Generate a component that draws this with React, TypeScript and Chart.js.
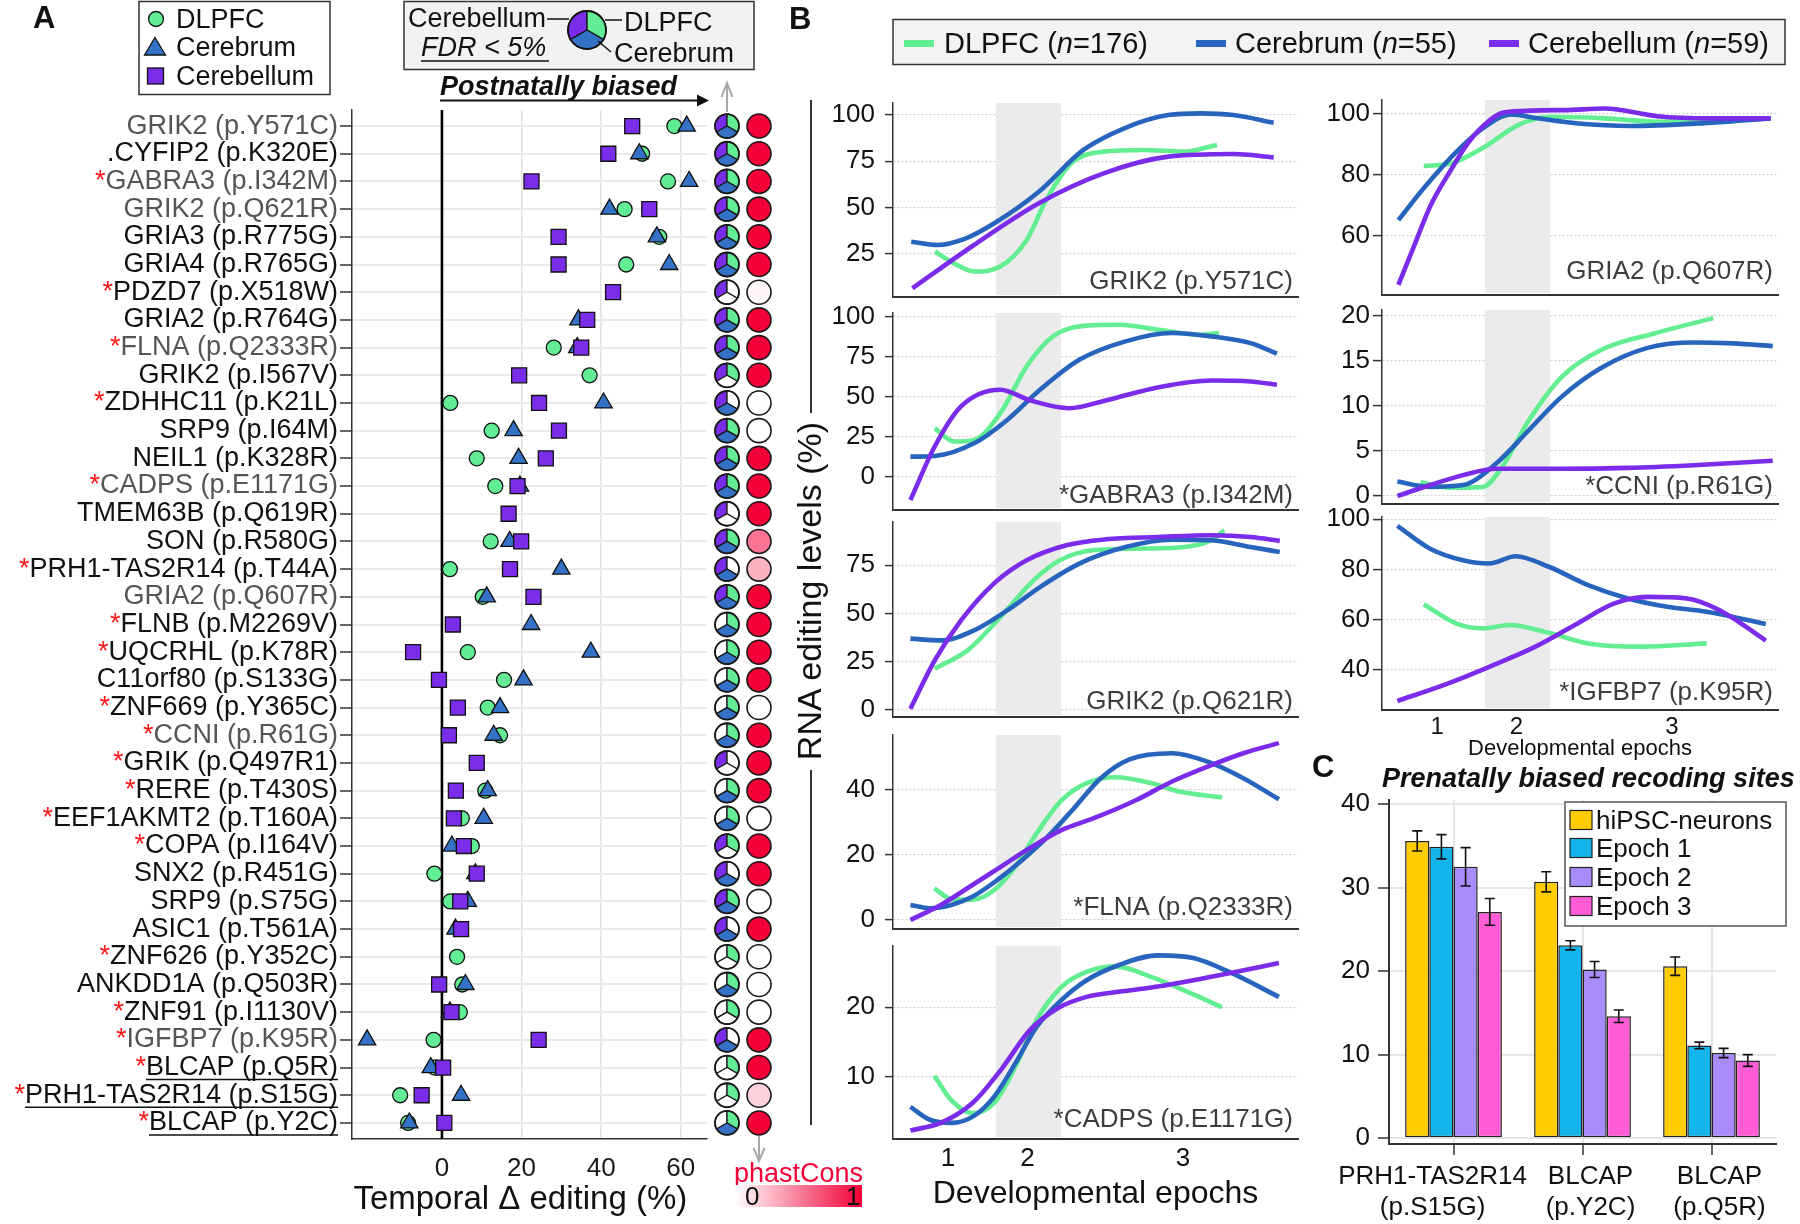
import React, { useEffect, useRef } from 'react';
import { Chart, registerables } from 'chart.js';

Chart.register(...registerables);

const FONT = '"Liberation Sans", Arimo, Arial, Helvetica, sans-serif';
Chart.defaults.font.family = FONT;
Chart.defaults.color = '#111';

// ---------------- colours ----------------
const GREEN = '#62EC93';
const BLUE = '#3372C6';
const PURPLE = '#7A2DE8';
const LINE_GREEN = '#63EE92';
const LINE_BLUE = '#2764BE';
const LINE_PURPLE = '#7B2BEA';
const PHAST_RGB = [242, 0, 55];

// ---------------- Panel A data ----------------
const SITES = [
  'GRIK2 (p.Y571C)', '.CYFIP2 (p.K320E)', 'GABRA3 (p.I342M)', 'GRIK2 (p.Q621R)', 'GRIA3 (p.R775G)',
  'GRIA4 (p.R765G)', 'PDZD7 (p.X518W)', 'GRIA2 (p.R764G)', 'FLNA (p.Q2333R)', 'GRIK2 (p.I567V)',
  'ZDHHC11 (p.K21L)', 'SRP9 (p.I64M)', 'NEIL1 (p.K328R)', 'CADPS (p.E1171G)', 'TMEM63B (p.Q619R)',
  'SON (p.R580G)', 'PRH1-TAS2R14 (p.T44A)', 'GRIA2 (p.Q607R)', 'FLNB (p.M2269V)', 'UQCRHL (p.K78R)',
  'C11orf80 (p.S133G)', 'ZNF669 (p.Y365C)', 'CCNI (p.R61G)', 'GRIK (p.Q497R1)', 'RERE (p.T430S)',
  'EEF1AKMT2 (p.T160A)', 'COPA (p.I164V)', 'SNX2 (p.R451G)', 'SRP9 (p.S75G)', 'ASIC1 (p.T561A)',
  'ZNF626 (p.Y352C)', 'ANKDD1A (p.Q503R)', 'ZNF91 (p.I1130V)', 'IGFBP7 (p.K95R)', 'BLCAP (p.Q5R)',
  'PRH1-TAS2R14 (p.S15G)', 'BLCAP (p.Y2C)',
];
const STARRED = [2, 6, 8, 10, 13, 16, 18, 19, 21, 22, 23, 24, 25, 26, 30, 32, 33, 34, 35, 36];
const GREY_SITES = [0, 2, 3, 8, 13, 17, 22, 33];
const UNDERLINED = [34, 35, 36];

const DELTA_DLPFC: (number | null)[] = [58.4, 50.3, 56.8, 45.9, 54.6, 46.3, null, null, 28.1, 37.1, 2.1, 12.5, 8.75, 13.4, null, 12.25, 2.0, 10.25, null, 6.5, 15.6, 11.5, 14.6, null, 10.9, 5.0, 7.5, -1.9, 2.1, null, 3.8, 5.1, 4.5, -2.1, -1.8, -10.5, -8.5];
const DELTA_CEREBRUM: (number | null)[] = [61.5, 49.6, 62.1, 42.1, 54.0, 57.1, null, 34.3, 34.0, null, 40.6, 18.0, 19.25, 19.6, null, 17.0, 30.0, 11.25, 22.4, 37.4, 20.5, 14.6, 13.0, null, 11.5, 10.5, 2.5, 8.4, 6.5, 3.4, null, 5.9, 2.0, -18.8, -2.8, 4.8, -8.2];
const DELTA_CEREBELLUM: (number | null)[] = [47.8, 41.8, 22.5, 52.1, 29.3, 29.3, 43.0, 36.5, 35.0, 19.4, 24.4, 29.4, 26.1, 19.0, 16.75, 19.9, 17.1, 23.0, 2.75, -7.25, -0.75, 4.0, 1.75, 8.75, 3.5, 3.0, 5.5, 8.75, 4.6, 4.8, null, -0.7, 2.4, 24.3, 0.3, -5.1, 0.6];

const FDR_CEREBELLUM = [1,1,1,1,1,1,1,1,1,1,1,1,1,1,1,1,1,1,0,0,0,0,0,1,0,0,1,1,1,1,0,0,0,1,0,0,0];
const FDR_DLPFC =      [1,1,1,1,1,1,0,1,1,1,0,1,1,1,0,1,0,1,1,1,1,1,1,0,1,1,1,0,1,0,1,1,1,0,1,1,1];
const FDR_CEREBRUM =   [1,1,1,1,1,1,0,1,1,0,1,1,1,1,0,1,1,1,1,1,1,1,1,0,1,1,0,1,1,1,0,1,0,1,0,0,1];
const PHASTCONS = [1,1,1,1,1,1,0.03,1,1,1,0,0,1,1,1,0.55,0.3,1,1,1,1,0,1,1,1,0,1,1,0,1,0,0,0,1,1,0.18,1];

const DELTA_TICKS = [0, 20, 40, 60];
const DELTA_RANGE = [-22.6, 66.6];

// ---------------- Panel B data ----------------
const EPOCH_TICK_POS = [13.6, 33.2, 71.6];
const EPOCH_LABELS = ['1', '2', '3'];
const EPOCH2_SHADE = [25.4, 41.5];
const B_X_MAX = [100, 97.8];

type P = [number, number][];
const B1_DLPFC: P = [[10.4,26.3],[15,20],[20,15.5],[26.5,18.2],[33,32.5],[37.8,54],[44,73.8],[52,80.1],[62,81],[71.5,80.1],[80,83.7]];
const B1_CEREBRUM: P = [[4.5,31.6],[11,29.8],[18,33.4],[25,41.5],[36,58.5],[47,81],[58,93.5],[68,99.8],[76,100.7],[84,99.8],[94,95.7]];
const B1_CEREBELLUM: P = [[4.8,6.5],[20,29.8],[36,52.3],[52,68.4],[68,77.4],[84,78.8],[94,77]];

const B2_DLPFC: P = [[10.3,30.2],[15.2,21.9],[20,22.9],[26.5,39.6],[33,68.8],[39.5,87.5],[47.7,94.2],[55.8,94.8],[65.6,91.7],[75.3,88.5],[80.5,89.6]];
const B2_CEREBRUM: P = [[4.3,12.5],[10.3,12.9],[20,20.8],[28.2,35.4],[36.3,54.2],[46,72.9],[57.4,84.4],[68.8,89.6],[78.6,87.5],[88.3,83.3],[94.8,76.7]];
const B2_CEREBELLUM: P = [[4.3,-14.6],[10.3,18.8],[16.8,43.8],[26.5,54.2],[34,47.5],[43.5,42.7],[52.5,47.5],[65.6,55.8],[78.6,60],[88.3,59.4],[94.8,57.3]];

const B3_DLPFC: P = [[10.3,21.3],[18.4,30.8],[26.5,48.1],[34.7,67.2],[41.2,77.6],[49.3,82.8],[62.3,83.7],[72,84.5],[78.6,88],[81.8,93.2]];
const B3_CEREBRUM: P = [[4.3,36.9],[11.9,36],[20,41.2],[28.2,51.6],[36.3,63.7],[46,75.9],[57.4,84.5],[68.8,88.3],[78.6,88],[88.3,84.5],[95.5,81.9]];
const B3_CEREBELLUM: P = [[4.3,0.5],[10.3,25.6],[16.8,46.4],[24.9,65.5],[33,77.6],[42.8,85.4],[52.5,88.5],[65.6,89.7],[78.6,90.6],[88.3,89.7],[95.5,87.7]];

const B4_DLPFC: P = [[10.2,9.7],[14.4,6.4],[19.7,6.2],[25,9.2],[30.2,16.4],[35.5,26.7],[41.7,36.9],[47.8,42.1],[54.9,43.9],[63.7,42.1],[70.7,39.5],[81.2,37.7]];
const B4_CEREBRUM: P = [[4.3,4.6],[9.1,3.6],[14.4,4.6],[19.7,7.2],[25.8,12.3],[32,18.5],[38.2,25.6],[44.3,33.8],[51.3,43.6],[58.4,49.4],[68.9,51.3],[77.7,48.7],[86.5,43.6],[95.3,37.1]];
const B4_CEREBELLUM: P = [[4.3,0],[11.8,4.6],[19.7,10.8],[26.7,16.4],[33.8,22.1],[41.7,27.7],[49.6,31.3],[60.1,36.9],[68.9,42.6],[77.7,47.2],[86.5,51.3],[95.3,54.4]];

const B5_DLPFC: P = [[10.2,10.1],[14.4,6.6],[19.7,4.7],[25,6.2],[30.2,11.4],[35.5,18.2],[41.7,23],[47.8,25.1],[54.9,25.9],[63.7,24.4],[72.5,22.3],[81.2,20]];
const B5_CEREBRUM: P = [[4.3,5.6],[9.1,3.75],[14.4,3.3],[19.7,4.2],[25,7.1],[30.2,11.9],[35.5,17.2],[41.7,21.1],[47.8,23.9],[55.8,26.1],[65.4,27.5],[74.2,27.1],[83,25.1],[95.3,21.5]];
const B5_CEREBELLUM: P = [[4.3,2.2],[11.8,3.3],[19.7,6.2],[26.7,11],[33.8,16.7],[40.8,19.9],[47.8,21.5],[56.6,22.3],[65.4,23],[74.2,23.9],[83,24.9],[95.3,26.4]];

const B6_DLPFC: P = [[10.3,82.9],[17.2,83.8],[25.4,89.2],[33.6,96.3],[41.8,99],[55,98.5],[68.1,97.4],[81.2,97.9]];
const B6_CEREBRUM: P = [[4.05,65.2],[10.6,76.1],[18.8,88.1],[25.4,95.7],[32,99.8],[38.5,98.5],[48.4,96.8],[61.5,96],[78,96.8],[96,98.5]];
const B6_CEREBELLUM: P = [[4.05,44],[8,57],[12,70],[17.2,82],[21,90],[25,96],[30.3,100.5],[45,101.2],[55,101.7],[68,99.2],[81,98.5],[96,98.5]];

const B7_DLPFC: P = [[9.5,1.5],[16.8,0.9],[24.9,1.0],[29.8,3.3],[36.3,8.4],[44.4,13.2],[54.2,16.2],[67.2,18],[81.8,19.7]];
const B7_CEREBRUM: P = [[3.8,1.6],[11.9,1.0],[20,1.2],[28.2,3.6],[36.3,7.3],[44.4,11],[54.2,14.2],[65.6,16.4],[77,17],[86.7,16.9],[96.5,16.6]];
const B7_CEREBELLUM: P = [[3.8,0],[11.9,1.2],[20,2.3],[28.2,3.0],[44.4,3.0],[60.7,3.1],[77,3.4],[96.5,3.9]];

const B8_DLPFC: P = [[10.3,66.2],[18.4,58.5],[24.9,56.6],[31.4,57.9],[41.2,54.8],[50.9,50.6],[63.9,49.3],[80.2,50.6]];
const B8_CEREBRUM: P = [[3.8,97.4],[11.9,88.3],[20,83.7],[26.5,82.4],[33,85.3],[41.2,81.1],[50.9,73.8],[60.7,68.5],[70.4,65.2],[80.2,63.2],[94.8,58.3]];
const B8_CEREBELLUM: P = [[3.8,27.7],[15.2,34],[26.5,41.3],[37.9,49.3],[47.6,57.9],[57.4,66.5],[65.6,69.1],[75.3,68.5],[83.4,63.8],[94.8,51.7]];

const B_SITES = ['GRIK2 (p.Y571C)', '*GABRA3 (p.I342M)', 'GRIK2 (p.Q621R)', '*FLNA (p.Q2333R)', '*CADPS (p.E1171G)', 'GRIA2 (p.Q607R)', '*CCNI (p.R61G)', '*IGFBP7 (p.K95R)'];
const B_SERIES: [P, P, P][] = [
  [B1_DLPFC, B1_CEREBRUM, B1_CEREBELLUM],
  [B2_DLPFC, B2_CEREBRUM, B2_CEREBELLUM],
  [B3_DLPFC, B3_CEREBRUM, B3_CEREBELLUM],
  [B4_DLPFC, B4_CEREBRUM, B4_CEREBELLUM],
  [B5_DLPFC, B5_CEREBRUM, B5_CEREBELLUM],
  [B6_DLPFC, B6_CEREBRUM, B6_CEREBELLUM],
  [B7_DLPFC, B7_CEREBRUM, B7_CEREBELLUM],
  [B8_DLPFC, B8_CEREBRUM, B8_CEREBELLUM],
];
const B_Y_RANGES = [[1.8, 106.3], [-20.8, 102.1], [-3.8, 97.5], [-2.8, 56.9], [0.97, 28.85], [40.7, 104.5], [-0.9, 20.6], [24.1, 100.9]];
const B_Y_TICKS = [[25, 50, 75, 100], [0, 25, 50, 75, 100], [0, 25, 50, 75], [0, 20, 40], [10, 20], [60, 80, 100], [0, 5, 10, 15, 20], [40, 60, 80, 100]];

// layout of panel B (pixels only)
type BLayout = { col: number; left: number; right: number; top: number; bottom: number; axisH: number; labelDy: number; tickSize?: number; tickPad?: number; titleSize?: number; titlePad?: number };
const B_LAYOUT: BLayout[] = [
  { col: 0, left: 893, right: 1298, top: 103, bottom: 297, axisH: 30, labelDy: 15 },
  { col: 0, left: 893, right: 1298, top: 313, bottom: 510, axisH: 30, labelDy: 14 },
  { col: 0, left: 893, right: 1298, top: 522, bottom: 717, axisH: 30, labelDy: 15 },
  { col: 0, left: 893, right: 1298, top: 735, bottom: 929, axisH: 30, labelDy: 21 },
  { col: 0, left: 893, right: 1298, top: 946, bottom: 1139, axisH: 85, labelDy: 19, tickSize: 26, tickPad: 4, titleSize: 32, titlePad: 11 },
  { col: 1, left: 1382, right: 1778, top: 100, bottom: 295, axisH: 30, labelDy: 23 },
  { col: 1, left: 1382, right: 1778, top: 310, bottom: 504, axisH: 30, labelDy: 17 },
  { col: 1, left: 1382, right: 1778, top: 517, bottom: 710, axisH: 58, labelDy: 17, tickSize: 24, tickPad: 3, titleSize: 22, titlePad: 6 },
];
const B_Y_TICK_LEN = [8, 9];
const B_Y_TICK_PAD = [10, 3];

// ---------------- Panel C data ----------------
const C_SITES = [['PRH1-TAS2R14', '(p.S15G)'], ['BLCAP', '(p.Y2C)'], ['BLCAP', '(p.Q5R)']];
const C_GROUPS = ['hiPSC-neurons', 'Epoch 1', 'Epoch 2', 'Epoch 3'];
const C_HIPSC = [35.6, 30.7, 20.6];
const C_EPOCH1 = [34.9, 23.1, 11.1];
const C_EPOCH2 = [32.5, 20.2, 10.2];
const C_EPOCH3 = [27.1, 14.6, 9.3];
const C_HIPSC_ERR = [1.2, 1.2, 1.1];
const C_EPOCH1_ERR = [1.45, 0.55, 0.4];
const C_EPOCH2_ERR = [2.3, 0.95, 0.55];
const C_EPOCH3_ERR = [1.6, 0.75, 0.7];
const C_COLORS = ['#FFCC00', '#14B5EA', '#A88CFB', '#FF5CD6'];
const C_Y_TICKS = [0, 10, 20, 30, 40];
const C_Y_RANGE = [-0.7, 40.5];

// ---------------- helpers ----------------
function phastColor(v: number) {
  const r = Math.round(255 + (PHAST_RGB[0] - 255) * v);
  const g = Math.round(255 + (PHAST_RGB[1] - 255) * v);
  const b = Math.round(255 + (PHAST_RGB[2] - 255) * v);
  return `rgb(${r},${g},${b})`;
}

function drawPie(ctx: CanvasRenderingContext2D, cx: number, cy: number, r: number, flags: number[]) {
  const sectors: [number, number, string, number][] = [
    [(5 * Math.PI) / 6, (3 * Math.PI) / 2, PURPLE, flags[0]],
    [-Math.PI / 2, Math.PI / 6, GREEN, flags[1]],
    [Math.PI / 6, (5 * Math.PI) / 6, BLUE, flags[2]],
  ];
  ctx.save();
  ctx.lineJoin = 'round';
  for (const [a0, a1, col, on] of sectors) {
    ctx.beginPath();
    ctx.moveTo(cx, cy);
    ctx.arc(cx, cy, r, a0, a1);
    ctx.closePath();
    ctx.fillStyle = on ? col : '#FFFFFF';
    ctx.fill();
    ctx.strokeStyle = '#1a1a1a';
    ctx.lineWidth = 1.3;
    ctx.stroke();
  }
  ctx.beginPath();
  ctx.arc(cx, cy, r, 0, Math.PI * 2);
  ctx.lineWidth = 1.8;
  ctx.stroke();
  ctx.restore();
}

function sectorPath(cx: number, cy: number, r: number, a0: number, a1: number) {
  const x0 = cx + r * Math.cos(a0), y0 = cy + r * Math.sin(a0);
  const x1 = cx + r * Math.cos(a1), y1 = cy + r * Math.sin(a1);
  return `M${cx},${cy} L${x0},${y0} A${r},${r} 0 0 1 ${x1},${y1} Z`;
}

const baseOpts = {
  animation: false as const,
  responsive: false,
  devicePixelRatio: 1,
  events: [] as any[],
};

// ---------------- Panel A ----------------
function PanelA() {
  const ref = useRef<HTMLCanvasElement>(null);
  useEffect(() => {
    const canvas = ref.current!;
    const toPts = (arr: (number | null)[]) =>
      arr.map((v, i) => (v === null ? null : { x: v, y: i })).filter((p) => p !== null) as { x: number; y: number }[];
    const labelFont = `27px ${FONT}`;
    const extras = {
      id: 'panelAExtras',
      beforeDatasetsDraw(chart: any) {
        const { ctx, chartArea } = chart;
        const x0 = chart.scales.x.getPixelForValue(0);
        ctx.save();
        ctx.strokeStyle = '#000';
        ctx.lineWidth = 2.6;
        ctx.beginPath();
        ctx.moveTo(x0, chartArea.top);
        ctx.lineTo(x0, chartArea.bottom);
        ctx.stroke();
        ctx.restore();
      },
      afterDraw(chart: any) {
        const { ctx, chartArea } = chart;
        const ys = chart.scales.y;
        const labelRight = ys.right - 12 - 2;
        ctx.save();
        ctx.font = labelFont;
        ctx.textBaseline = 'middle';
        ctx.textAlign = 'right';
        SITES.forEach((s, i) => {
          const y = ys.getPixelForValue(i);
          const w = ctx.measureText(s).width;
          if (STARRED.includes(i)) {
            ctx.fillStyle = '#FF1A1A';
            ctx.fillText('*', labelRight - w, y);
          }
          if (UNDERLINED.includes(i)) {
            ctx.strokeStyle = '#111';
            ctx.lineWidth = 1.6;
            ctx.beginPath();
            ctx.moveTo(labelRight - w, y + 12);
            ctx.lineTo(labelRight, y + 12);
            ctx.stroke();
          }
          drawPie(ctx, chartArea.right + 20, y, 12, [FDR_CEREBELLUM[i], FDR_DLPFC[i], FDR_CEREBRUM[i]]);
          ctx.beginPath();
          ctx.arc(chartArea.right + 52, y, 12, 0, Math.PI * 2);
          ctx.fillStyle = phastColor(PHASTCONS[i]);
          ctx.fill();
          ctx.strokeStyle = '#1a1a1a';
          ctx.lineWidth = 1.6;
          ctx.stroke();
        });
        ctx.restore();
      },
    };
    const chart = new Chart(canvas, {
      type: 'scatter',
      data: {
        datasets: [
          { label: 'Cerebellum', data: toPts(DELTA_CEREBELLUM), pointStyle: 'rect', pointRadius: 10.6, backgroundColor: PURPLE, borderColor: '#111', borderWidth: 1.3 },
          { label: 'Cerebrum', data: toPts(DELTA_CEREBRUM), pointStyle: 'triangle', pointRadius: 10, backgroundColor: BLUE, borderColor: '#111', borderWidth: 1.3 },
          { label: 'DLPFC', data: toPts(DELTA_DLPFC), pointStyle: 'circle', pointRadius: 7.5, backgroundColor: GREEN, borderColor: '#111', borderWidth: 1.3 },
        ] as any,
      },
      options: {
        ...baseOpts,
        layout: { padding: { left: 0, right: 93, top: 110, bottom: 0 }, autoPadding: false },
        plugins: { legend: { display: false }, tooltip: { enabled: false } },
        scales: {
          x: {
            type: 'linear',
            min: DELTA_RANGE[0],
            max: DELTA_RANGE[1],
            afterBuildTicks: (s: any) => { s.ticks = DELTA_TICKS.map((v) => ({ value: v })); },
            afterFit: (s: any) => { s.height = 85; },
            grid: { color: '#E2E2E2', lineWidth: 1.5, drawTicks: false },
            border: { display: true, color: '#333', width: 1.5 },
            ticks: { font: { size: 26 }, color: '#1a1a1a', padding: 14, maxRotation: 0, autoSkip: false },
            title: { display: true, text: 'Temporal Δ editing (%)\u00A0\u00A0', font: { size: 33 }, color: '#111', padding: { top: 0, bottom: 4 } },
          },
          y: {
            type: 'linear',
            reverse: true,
            min: -0.58,
            max: 36.58,
            afterBuildTicks: (s: any) => { s.ticks = SITES.map((_, i) => ({ value: i })); },
            afterFit: (s: any) => { s.width = 352; },
            grid: { color: '#EAEAEA', lineWidth: 2, tickLength: 12, tickColor: '#333', tickWidth: 1.5 },
            border: { display: true, color: '#333', width: 1.5 },
            ticks: {
              autoSkip: false,
              font: { size: 27 },
              padding: 2,
              color: (c: any) => (GREY_SITES.includes(c.tick?.value) ? '#555' : '#111'),
              callback: (v: any) => SITES[Number(v)],
            },
          },
        },
      } as any,
      plugins: [extras],
    });
    return () => chart.destroy();
  }, []);
  return <canvas ref={ref} width={800} height={1224} style={{ position: 'absolute', left: 0, top: 0, width: 800, height: 1224 }} />;
}

// ---------------- Panel B ----------------
function LineChartB({ idx }: { idx: number }) {
  const ref = useRef<HTMLCanvasElement>(null);
  const L = B_LAYOUT[idx];
  const padTop = 30;
  const padRight = 10;
  const yAxisW = 110;
  const cw = L.right - L.left + yAxisW + padRight;
  const ch = L.bottom - L.top + padTop + L.axisH;
  useEffect(() => {
    const canvas = ref.current!;
    const [dl, ce, cb] = B_SERIES[idx];
    const toXY = (p: P) => p.map(([x, y]) => ({ x, y }));
    const line = (data: P, color: string) => ({
      data: toXY(data), borderColor: color, borderWidth: 4.6, pointRadius: 0, fill: false,
      cubicInterpolationMode: 'monotone', borderCapStyle: 'butt', borderJoinStyle: 'round',
    });
    const showX = !!L.tickSize;
    const extras = {
      id: 'bExtras',
      beforeDatasetsDraw(chart: any) {
        const { ctx, chartArea } = chart;
        const xs = chart.scales.x;
        const x0 = xs.getPixelForValue(EPOCH2_SHADE[0]);
        const x1 = xs.getPixelForValue(EPOCH2_SHADE[1]);
        ctx.save();
        ctx.fillStyle = '#EBEBEB';
        ctx.fillRect(x0, chartArea.top, x1 - x0, chartArea.bottom - chartArea.top - 2);
        ctx.restore();
      },
      afterDatasetsDraw(chart: any) {
        const { ctx, chartArea } = chart;
        ctx.save();
        ctx.font = `26px ${FONT}`;
        ctx.fillStyle = '#3d3d3d';
        ctx.textAlign = 'right';
        ctx.textBaseline = 'middle';
        ctx.fillText(B_SITES[idx], chartArea.right - 5, chartArea.bottom - L.labelDy);
        ctx.restore();
      },
    };
    const chart = new Chart(canvas, {
      type: 'line',
      data: { datasets: [line(cb, LINE_PURPLE), line(ce, LINE_BLUE), line(dl, LINE_GREEN)] as any },
      options: {
        ...baseOpts,
        layout: { padding: { left: 0, right: padRight, top: padTop, bottom: 0 }, autoPadding: false },
        plugins: { legend: { display: false }, tooltip: { enabled: false } },
        scales: {
          x: {
            type: 'linear',
            min: 0,
            max: B_X_MAX[L.col],
            afterBuildTicks: (s: any) => { s.ticks = EPOCH_TICK_POS.map((v) => ({ value: v })); },
            afterFit: (s: any) => { s.height = L.axisH; },
            grid: { display: false, drawTicks: false },
            border: { display: true, color: '#333', width: 2 },
            ticks: {
              display: showX,
              font: { size: L.tickSize || 26 },
              padding: L.tickPad || 0,
              color: '#111',
              maxRotation: 0,
              autoSkip: false,
              callback: (_v: any, i: number) => EPOCH_LABELS[i],
            },
            title: {
              display: !!L.titleSize,
              text: 'Developmental epochs',
              font: { size: L.titleSize || 20 },
              color: '#111',
              padding: { top: 0, bottom: L.titlePad || 0 },
            },
          },
          y: {
            type: 'linear',
            min: B_Y_RANGES[idx][0],
            max: B_Y_RANGES[idx][1],
            afterBuildTicks: (s: any) => { s.ticks = B_Y_TICKS[idx].map((v) => ({ value: v })); },
            afterFit: (s: any) => { s.width = yAxisW; },
            grid: { color: '#CFCFCF', lineWidth: 1.2, tickLength: B_Y_TICK_LEN[L.col], tickColor: '#333', tickWidth: 1.5 },
            border: { display: true, color: '#333', width: 1.5, dash: [2, 2] },
            ticks: { font: { size: 26 }, padding: B_Y_TICK_PAD[L.col], color: '#111', autoSkip: false },
          },
        },
      } as any,
      plugins: [extras],
    });
    return () => chart.destroy();
  }, [idx]);
  return (
    <canvas
      ref={ref}
      width={cw}
      height={ch}
      style={{ position: 'absolute', left: L.left - yAxisW, top: L.top - padTop, width: cw, height: ch }}
    />
  );
}

// ---------------- Panel C ----------------
function PanelC() {
  const ref = useRef<HTMLCanvasElement>(null);
  const left = 1280, top = 770, w = 520, h = 454;
  useEffect(() => {
    const canvas = ref.current!;
    const values = [C_HIPSC, C_EPOCH1, C_EPOCH2, C_EPOCH3];
    const errs = [C_HIPSC_ERR, C_EPOCH1_ERR, C_EPOCH2_ERR, C_EPOCH3_ERR];
    const NB = '\u00A0'.repeat(8);
    const errorBars = {
      id: 'errorBars',
      afterDatasetsDraw(chart: any) {
        const { ctx } = chart;
        const ys = chart.scales.y;
        ctx.save();
        ctx.strokeStyle = '#111';
        ctx.lineWidth = 1.6;
        values.forEach((vals, di) => {
          const meta = chart.getDatasetMeta(di);
          meta.data.forEach((bar: any, i: number) => {
            const v = vals[i], e = errs[di][i];
            const y1 = ys.getPixelForValue(v + e);
            const y2 = ys.getPixelForValue(v - e);
            ctx.beginPath();
            ctx.moveTo(bar.x, y1); ctx.lineTo(bar.x, y2);
            ctx.moveTo(bar.x - 5, y1); ctx.lineTo(bar.x + 5, y1);
            ctx.moveTo(bar.x - 5, y2); ctx.lineTo(bar.x + 5, y2);
            ctx.stroke();
          });
        });
        ctx.restore();
      },
    };
    const chart = new Chart(canvas, {
      type: 'bar',
      data: {
        labels: C_SITES as any,
        datasets: values.map((vals, i) => ({
          label: C_GROUPS[i],
          data: vals,
          backgroundColor: C_COLORS[i],
          borderColor: '#222',
          borderWidth: 1.5,
          borderSkipped: false,
          categoryPercentage: 0.75,
          barPercentage: 1.0,
        })),
      },
      options: {
        ...baseOpts,
        layout: { padding: { left: 0, right: 24, top: 30, bottom: 0 }, autoPadding: false },
        plugins: { legend: { display: false }, tooltip: { enabled: false } },
        scales: {
          x: {
            type: 'category',
            afterFit: (s: any) => { s.height = 80; },
            grid: { display: true, offset: false, color: '#E6E6E6', lineWidth: 2, tickLength: 11, tickColor: '#333', tickWidth: 1.5 },
            border: { display: true, color: '#333', width: 2 },
            ticks: {
              font: { size: 26 },
              color: '#111',
              padding: 6,
              labelOffset: 8,
              maxRotation: 0,
              autoSkip: false,
              callback: (_v: any, i: number) => (i === 0 ? C_SITES[0].map((s) => s + NB) : C_SITES[i]),
            },
          },
          y: {
            type: 'linear',
            min: C_Y_RANGE[0],
            max: C_Y_RANGE[1],
            afterBuildTicks: (s: any) => { s.ticks = C_Y_TICKS.map((v) => ({ value: v })); },
            afterFit: (s: any) => { s.width = 109; },
            grid: { color: '#E6E6E6', lineWidth: 2, tickLength: 11, tickColor: '#333', tickWidth: 1.5 },
            border: { display: true, color: '#333', width: 2 },
            ticks: { font: { size: 26 }, color: '#111', padding: 8 },
          },
        },
      } as any,
      plugins: [errorBars],
    });
    return () => chart.destroy();
  }, []);
  return <canvas ref={ref} width={w} height={h} style={{ position: 'absolute', left, top, width: w, height: h }} />;
}

// ---------------- Overlay (legends, labels, arrows) ----------------
function Overlay() {
  const T = (p: any) => <text dominantBaseline="central" fill="#111" fontSize={27} {...p} />;
  const pieC = { x: 587, y: 30, r: 19 };
  return (
    <svg width={1800} height={1224} style={{ position: 'absolute', left: 0, top: 0, pointerEvents: 'none' }} fontFamily={FONT}>
      <defs>
        <linearGradient id="phastGrad" x1="0" x2="1" y1="0" y2="0">
          <stop offset="0" stopColor="#FFFFFF" />
          <stop offset="1" stopColor={phastColor(1)} />
        </linearGradient>
      </defs>

      {/* panel letters */}
      <T x={33} y={17} fontSize={31} fontWeight="bold">A</T>
      <T x={789} y={18} fontSize={31} fontWeight="bold">B</T>
      <T x={1312} y={766} fontSize={31} fontWeight="bold">C</T>

      {/* Panel A marker legend */}
      <rect x={139} y={1.5} width={191} height={93} fill="#fff" stroke="#333" strokeWidth={1.5} />
      <circle cx={156} cy={19} r={7.5} fill={GREEN} stroke="#111" strokeWidth={1.3} />
      <polygon points="155,37.5 165.5,55 144.5,55" fill={BLUE} stroke="#111" strokeWidth={1.3} />
      <rect x={147.5} y={68} width={16} height={16} fill={PURPLE} stroke="#111" strokeWidth={1.3} />
      <T x={176} y={19}>DLPFC</T>
      <T x={176} y={47}>Cerebrum</T>
      <T x={176} y={76}>Cerebellum</T>

      {/* Pie legend */}
      <rect x={404} y={1.5} width={350} height={68} fill="#F2F2F2" stroke="#333" strokeWidth={1.5} />
      <T x={408} y={18}>Cerebellum</T>
      <line x1={547} y1={19} x2={569} y2={19} stroke="#111" strokeWidth={1.5} />
      <path d={sectorPath(pieC.x, pieC.y, pieC.r, (5 * Math.PI) / 6, (3 * Math.PI) / 2)} fill={PURPLE} stroke="#111" strokeWidth={1.3} />
      <path d={sectorPath(pieC.x, pieC.y, pieC.r, -Math.PI / 2, Math.PI / 6)} fill={GREEN} stroke="#111" strokeWidth={1.3} />
      <path d={sectorPath(pieC.x, pieC.y, pieC.r, Math.PI / 6, (5 * Math.PI) / 6)} fill={BLUE} stroke="#111" strokeWidth={1.3} />
      <circle cx={pieC.x} cy={pieC.y} r={pieC.r} fill="none" stroke="#111" strokeWidth={1.8} />
      <line x1={605} y1={20} x2={622} y2={20} stroke="#111" strokeWidth={1.5} />
      <T x={624} y={22}>DLPFC</T>
      <T x={421} y={47} fontStyle="italic">FDR &lt; 5%</T>
      <line x1={421} y1={61} x2={549} y2={61} stroke="#111" strokeWidth={1.5} />
      <line x1={598} y1={41} x2={611} y2={52} stroke="#111" strokeWidth={1.5} />
      <T x={614} y={53}>Cerebrum</T>

      {/* Postnatally biased arrow */}
      <T x={440} y={86} fontWeight="bold" fontStyle="italic">Postnatally biased</T>
      <line x1={440} y1={100.5} x2={700} y2={100.5} stroke="#111" strokeWidth={2} />
      <polygon points="709,100.5 697,94.5 697,106.5" fill="#111" />

      {/* grey arrows */}
      <line x1={727} y1={112} x2={727} y2={84} stroke="#A8A8A8" strokeWidth={2} />
      <polyline points="721.5,97 727,83 732.5,97" fill="none" stroke="#A8A8A8" strokeWidth={2} />
      <line x1={759} y1={1136} x2={759} y2={1160} stroke="#A8A8A8" strokeWidth={2} />
      <polyline points="753.5,1148 759,1161 764.5,1148" fill="none" stroke="#A8A8A8" strokeWidth={2} />

      {/* phastCons scale */}
      <T x={734} y={1173} fill={phastColor(1)}>phastCons</T>
      <rect x={735} y={1185} width={127} height={22} fill="url(#phastGrad)" />
      <T x={745} y={1196} fontSize={26}>0</T>
      <T x={846} y={1196} fontSize={26}>1</T>

      {/* Panel B legend */}
      <rect x={893} y={19.5} width={892} height={45} fill="#F3F3F3" stroke="#333" strokeWidth={1.5} />
      <rect x={904} y={40} width={30} height={7} fill={LINE_GREEN} />
      <T x={944} y={43} fontSize={29}>DLPFC (<tspan fontStyle="italic">n</tspan>=176)</T>
      <rect x={1196} y={40} width={30} height={7} fill={LINE_BLUE} />
      <T x={1235} y={43} fontSize={29}>Cerebrum (<tspan fontStyle="italic">n</tspan>=55)</T>
      <rect x={1489} y={40} width={30} height={7} fill={LINE_PURPLE} />
      <T x={1528} y={43} fontSize={29}>Cerebellum (<tspan fontStyle="italic">n</tspan>=59)</T>

      {/* Panel B y title */}
      <line x1={811} y1={100} x2={811} y2={413} stroke="#333" strokeWidth={2} />
      <line x1={811} y1={770} x2={811} y2={1125} stroke="#333" strokeWidth={2} />
      <text x={809} y={591} fontSize={34} fill="#111" textAnchor="middle" dominantBaseline="central" transform="rotate(-90 809 591)">
        RNA editing levels (%)
      </text>

      {/* Panel C title and legend */}
      <T x={1382} y={778} fontWeight="bold" fontStyle="italic">Prenatally biased recoding sites</T>
      <rect x={1565} y={802} width={221} height={124} fill="#fff" stroke="#555" strokeWidth={1.5} />
      {C_GROUPS.map((g, i) => {
        const cy = [820, 848, 877, 906][i];
        return (
          <g key={g}>
            <rect x={1570} y={cy - 9.5} width={22} height={19} fill={C_COLORS[i]} stroke="#222" strokeWidth={1.2} />
            <T x={1596} y={cy} fontSize={26}>{g}</T>
          </g>
        );
      })}
    </svg>
  );
}

export default function App() {
  return (
    <div style={{ position: 'fixed', left: 0, top: 0, width: 1800, height: 1224, background: '#fff', overflow: 'hidden', fontFamily: FONT }}>
      <PanelA />
      {B_LAYOUT.map((_, i) => (
        <LineChartB key={i} idx={i} />
      ))}
      <PanelC />
      <Overlay />
    </div>
  );
}
